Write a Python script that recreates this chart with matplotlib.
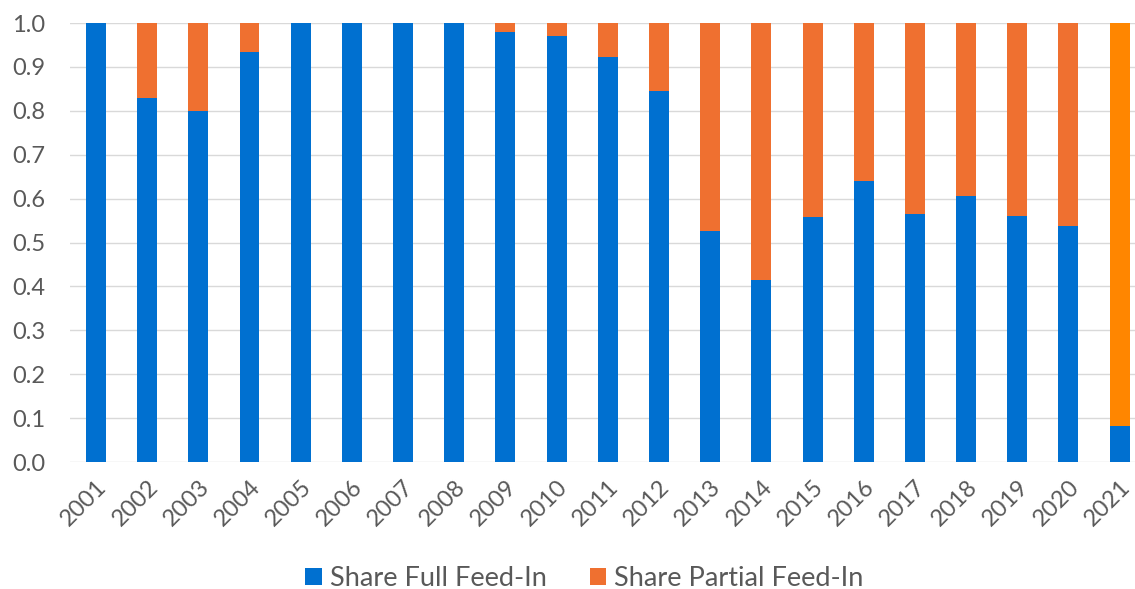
import numpy as np
import matplotlib.pyplot as plt

plt.rcParams['font.family'] = ['Lato', 'DejaVu Sans']

years = [str(y) for y in range(2001, 2022)]
share_full = [1.0, 0.83, 0.80, 0.933, 1.0, 1.0, 1.0, 1.0, 0.98, 0.97, 0.922,
              0.845, 0.527, 0.415, 0.557, 0.64, 0.565, 0.607, 0.56, 0.537, 0.083]
share_partial = [1 - v for v in share_full]

blue = '#0070D0'
orange = '#EF7030'
orange_last = '#FF8600'

fig = plt.figure(figsize=(11.35, 5.89), dpi=100)
ax = fig.add_axes([0.062, 0.2156, 0.947, 0.7453])

x = np.arange(len(years))
part_colors = [orange] * (len(years) - 1) + [orange_last]
ax.bar(x, share_full, width=0.39, color=blue, label='Share Full Feed-In', zorder=3)
ax.bar(x, share_partial, width=0.39, bottom=share_full, color=part_colors,
       label='Share Partial Feed-In', zorder=3)

ax.set_xlim(-0.5, len(years) - 0.5)
ax.set_ylim(0, 1.0)
ax.set_yticks(np.arange(0, 1.01, 0.1))
ax.set_yticklabels([f'{v:.1f}' for v in np.arange(0, 1.01, 0.1)])
ax.set_xticks(x)
ax.set_xticklabels(years, rotation=45, ha='right', rotation_mode='anchor')
ax.tick_params(axis='both', length=0, labelsize=17, labelcolor='#595959')
ax.tick_params(axis='y', pad=18)
ax.tick_params(axis='x', pad=10)
ax.grid(axis='y', color='#D9D9D9', linewidth=1, zorder=0)
for s in ax.spines.values():
    s.set_visible(False)

fig.legend(loc='lower center', bbox_to_anchor=(0.515, -0.045), ncol=2, frameon=False,
           fontsize=19.5, labelcolor='#595959', handlelength=0.6, handleheight=0.6,
           handletextpad=0.3, columnspacing=1.6)

fig.savefig('out.png', dpi=100)
